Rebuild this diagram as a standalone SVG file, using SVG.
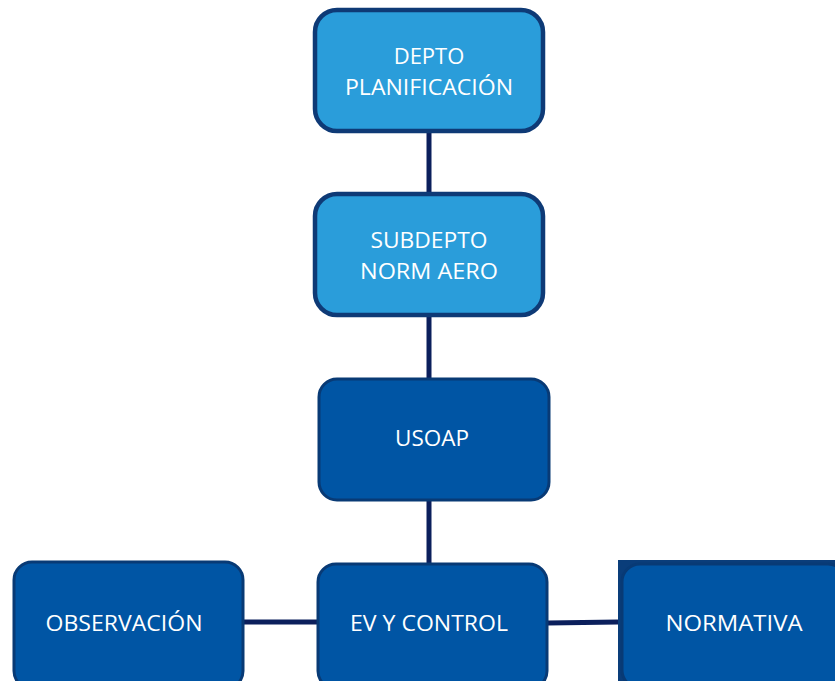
<svg xmlns="http://www.w3.org/2000/svg" width="835" height="681" viewBox="0 0 835 681">
<style>
.light{fill:#2A9DDA;stroke:#0E3A76;stroke-width:4.5}
.dark{fill:#0055A4;stroke:#083A75;stroke-width:3}
.lbl{font-family:"Open Sans","Noto Sans",sans-serif;font-size:22px;fill:#ffffff;text-anchor:middle}
.conn{stroke:#0B1F5C;stroke-width:5;fill:none}
</style>
<rect width="835" height="681" fill="#ffffff"/>
<g id="connectors">
<line class="conn" x1="429" y1="132" x2="429" y2="194"/>
<line class="conn" x1="429" y1="316" x2="429" y2="379"/>
<line class="conn" x1="429" y1="500" x2="429" y2="564"/>
<line class="conn" x1="243" y1="622" x2="318" y2="622"/>
<line class="conn" x1="548" y1="623" x2="618" y2="622"/>
</g>
<g id="depto">
<rect class="light" x="315" y="10" width="228" height="121" rx="22"/>
<text class="lbl" x="429" y="64">DEPTO</text>
<text class="lbl" x="429" y="95" textLength="168" lengthAdjust="spacingAndGlyphs">PLANIFICACIÓN</text>
</g>
<g id="subdepto">
<rect class="light" x="315" y="194" width="228" height="121" rx="22"/>
<text class="lbl" x="429" y="248" textLength="117" lengthAdjust="spacingAndGlyphs">SUBDEPTO</text>
<text class="lbl" x="429" y="279" textLength="138" lengthAdjust="spacingAndGlyphs">NORM AERO</text>
</g>
<g id="usoap">
<rect class="dark" x="319" y="379" width="230" height="121" rx="18"/>
<text class="lbl" x="432" y="446" textLength="74" lengthAdjust="spacingAndGlyphs">USOAP</text>
</g>
<g id="ev">
<rect class="dark" x="318" y="564" width="229" height="125" rx="18"/>
<text class="lbl" x="429" y="631" textLength="158" lengthAdjust="spacingAndGlyphs">EV Y CONTROL</text>
</g>
<g id="observacion">
<rect class="dark" x="14" y="562" width="229" height="127" rx="18"/>
<text class="lbl" x="124" y="631" textLength="157" lengthAdjust="spacingAndGlyphs">OBSERVACIÓN</text>
</g>
<g id="normativa">
<rect x="618" y="560" width="230" height="130" fill="#0A3D7A"/>
<rect class="dark" x="622" y="564" width="224" height="124" rx="18" stroke="#0050A0"/>
<text class="lbl" x="734" y="631" textLength="137" lengthAdjust="spacingAndGlyphs">NORMATIVA</text>
</g>
</svg>
